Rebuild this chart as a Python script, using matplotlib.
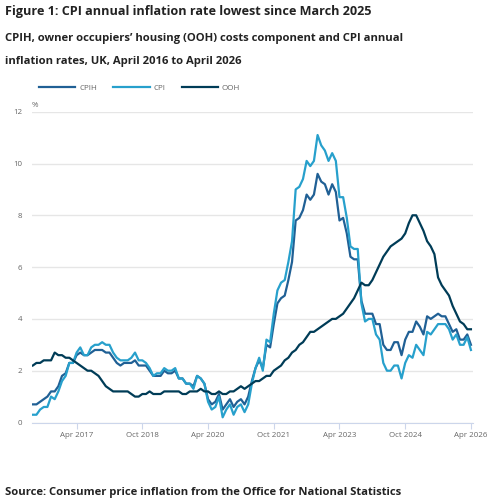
import matplotlib
matplotlib.use('Agg')
import matplotlib.pyplot as plt
import pandas as pd

plt.rcParams['font.family'] = ['Open Sans', 'DejaVu Sans']

# monthly, April 2016 to April 2026
months = pd.date_range('2016-04-01', '2026-04-01', freq='MS').strftime('%b %Y').tolist()

cpih = [0.7, 0.7, 0.8, 0.9, 1.0, 1.2, 1.2, 1.4, 1.8,
        1.9, 2.3, 2.3, 2.6, 2.7, 2.6, 2.6, 2.7, 2.8, 2.8, 2.8, 2.7,
        2.7, 2.5, 2.3, 2.2, 2.3, 2.3, 2.3, 2.4, 2.2, 2.2, 2.2, 2.0,
        1.8, 1.8, 1.8, 2.0, 1.9, 1.9, 2.0, 1.7, 1.7, 1.5, 1.5, 1.4,
        1.8, 1.7, 1.5, 0.9, 0.7, 0.8, 1.1, 0.5, 0.7, 0.9, 0.6, 0.8,
        0.9, 0.7, 1.0, 1.6, 2.1, 2.4, 2.1, 3.0, 2.9, 3.8, 4.6, 4.8,
        4.9, 5.5, 6.2, 7.8, 7.9, 8.2, 8.8, 8.6, 8.8, 9.6, 9.3, 9.2,
        8.8, 9.2, 8.9, 7.8, 7.9, 7.3, 6.4, 6.3, 6.3, 4.7, 4.2, 4.2,
        4.2, 3.8, 3.8, 3.0, 2.8, 2.8, 3.1, 3.1, 2.6, 3.2, 3.5, 3.5,
        3.9, 3.7, 3.4, 4.1, 4.0, 4.1, 4.2, 4.1, 4.1, 3.8, 3.5, 3.6,
        3.2, 3.2, 3.4, 3.0]

cpi = [0.3, 0.3, 0.5, 0.6, 0.6, 1.0, 0.9, 1.2, 1.6,
       1.8, 2.3, 2.3, 2.7, 2.9, 2.6, 2.6, 2.9, 3.0, 3.0, 3.1, 3.0,
       3.0, 2.7, 2.5, 2.4, 2.4, 2.4, 2.5, 2.7, 2.4, 2.4, 2.3, 2.1,
       1.8, 1.9, 1.9, 2.1, 2.0, 2.0, 2.1, 1.7, 1.7, 1.5, 1.5, 1.3,
       1.8, 1.7, 1.5, 0.8, 0.5, 0.6, 1.0, 0.2, 0.5, 0.7, 0.3, 0.6,
       0.7, 0.4, 0.7, 1.5, 2.1, 2.5, 2.0, 3.2, 3.1, 4.2, 5.1, 5.4,
       5.5, 6.2, 7.0, 9.0, 9.1, 9.4, 10.1, 9.9, 10.1, 11.1, 10.7, 10.5,
       10.1, 10.4, 10.1, 8.7, 8.7, 7.9, 6.8, 6.7, 6.7, 4.6, 3.9, 4.0,
       4.0, 3.4, 3.2, 2.3, 2.0, 2.0, 2.2, 2.2, 1.7, 2.3, 2.6, 2.5,
       3.0, 2.8, 2.6, 3.5, 3.4, 3.6, 3.8, 3.8, 3.8, 3.6, 3.2, 3.4,
       3.0, 3.0, 3.3, 2.8]

ooh = [2.2, 2.3, 2.3, 2.4, 2.4, 2.4, 2.7, 2.6, 2.6,
       2.5, 2.5, 2.4, 2.3, 2.2, 2.1, 2.0, 2.0, 1.9, 1.8, 1.6, 1.4,
       1.3, 1.2, 1.2, 1.2, 1.2, 1.2, 1.1, 1.0, 1.0, 1.1, 1.1, 1.2,
       1.1, 1.1, 1.1, 1.2, 1.2, 1.2, 1.2, 1.2, 1.1, 1.1, 1.2, 1.2,
       1.2, 1.3, 1.2, 1.2, 1.1, 1.1, 1.2, 1.1, 1.1, 1.2, 1.2, 1.3,
       1.4, 1.3, 1.4, 1.5, 1.6, 1.6, 1.7, 1.8, 1.8, 2.0, 2.1, 2.2,
       2.4, 2.5, 2.7, 2.8, 3.0, 3.1, 3.3, 3.5, 3.5, 3.6, 3.7, 3.8,
       3.9, 4.0, 4.0, 4.1, 4.2, 4.4, 4.6, 4.8, 5.1, 5.4, 5.3, 5.3,
       5.5, 5.8, 6.1, 6.4, 6.6, 6.8, 6.9, 7.0, 7.1, 7.3, 7.7, 8.0,
       8.0, 7.7, 7.4, 7.0, 6.8, 6.5, 5.6, 5.3, 5.1, 4.9, 4.5, 4.2,
       3.9, 3.8, 3.6, 3.6]

tick_labels = ['Apr 2017', 'Oct 2018', 'Apr 2020', 'Oct 2021', 'Apr 2023', 'Oct 2024', 'Apr 2026']
y_ticks = [0, 2, 4, 6, 8, 10, 12]

W, H = 489, 500
fig = plt.figure(figsize=(W / 100, H / 100), dpi=100)
ax = fig.add_axes([31.7 / W, 1 - 422.5 / H, (473.3 - 31.7) / W, (422.5 - 111.7) / H])

x = list(range(len(months)))
ax.plot(x, cpih, color='#206095', lw=1.6, label='CPIH')
ax.plot(x, cpi, color='#27a0cc', lw=1.6, label='CPI')
ax.plot(x, ooh, color='#003c57', lw=1.6, label='OOH')

ax.set_xlim(-0.3, len(months) - 0.35)
ax.set_ylim(0, 12)
ax.set_xticks([months.index(t) for t in tick_labels])
ax.set_xticklabels(tick_labels)
ax.set_yticks(y_ticks)
ax.grid(axis='y', color='#e6e6e6', lw=1)
ax.set_axisbelow(True)
for s in ['top', 'right', 'left']:
    ax.spines[s].set_visible(False)
ax.spines['bottom'].set_color('#ccd6eb')
ax.tick_params(axis='x', colors='#ccd6eb', length=4, labelcolor='#666666', labelsize=5.7, pad=3)
ax.tick_params(axis='y', length=0, labelcolor='#666666', labelsize=5.7, pad=7)

fig.text(5 / W, 1 - 11.5 / H, 'Figure 1: CPI annual inflation rate lowest since March 2025',
         fontsize=9.1, fontweight='bold', color='#222222', va='center')
fig.text(5 / W, 1 - 39 / H, 'CPIH, owner occupiers\u2019 housing (OOH) costs component and CPI annual',
         fontsize=8.15, fontweight='bold', color='#222222', va='center')
fig.text(5 / W, 1 - 61.5 / H, 'inflation rates, UK, April 2016 to April 2026',
         fontsize=8.15, fontweight='bold', color='#222222', va='center')
fig.text(32 / W, 1 - 105.5 / H, '%', fontsize=5.7, color='#666666', va='center')
fig.text(5 / W, 1 - 493 / H, 'Source: Consumer price inflation from the Office for National Statistics',
         fontsize=8.15, fontweight='bold', color='#222222', va='center')

fig.legend(loc='center left', bbox_to_anchor=(39 / W, 1 - 88.3 / H), ncol=3, frameon=False,
           fontsize=5.8, labelcolor='#666666', handlelength=4.5, handletextpad=0.5,
           columnspacing=2.0, borderpad=0, borderaxespad=0)

fig.savefig('out.png', dpi=100)
